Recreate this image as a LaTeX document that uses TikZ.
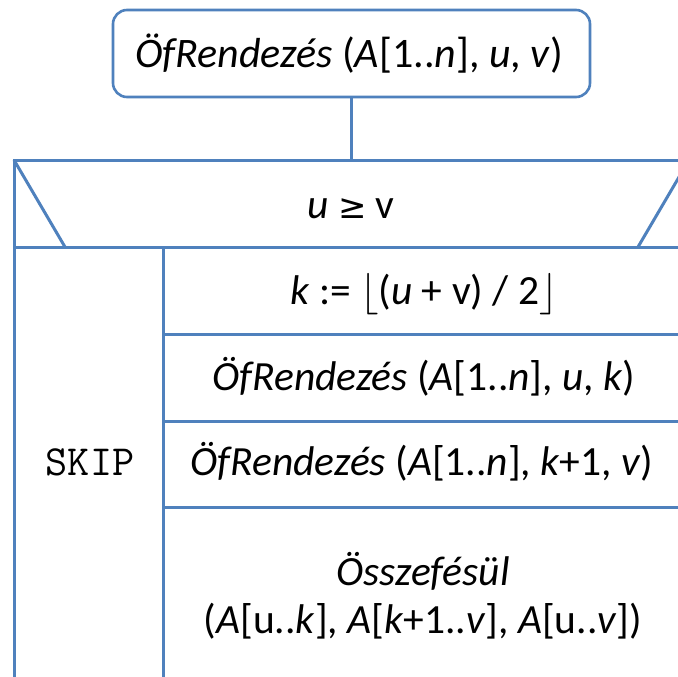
\RequirePackage{fix-cm}
\documentclass[tikz,border=0pt]{standalone}
\usepackage{fontspec}
\setmainfont{Carlito}
\newfontfamily\symf{DejaVu Sans}
\begin{document}
\begin{tikzpicture}[x=1pt,y=-1pt,
  frameline/.style={draw=nsblue,line width=3pt},
  lbl/.style={font=\fontsize{41.5}{48}\selectfont, inner sep=0pt, align=center},
  headbox/.style={draw=nsblue, line width=2.6pt, rounded corners=14pt, minimum width=477pt, minimum height=87pt}]
\definecolor{nsblue}{HTML}{4F81BD}
\clip (0,0) rectangle (678,677);
\fill[white] (0,0) rectangle (678,677);
\node[headbox] (head) at (351.5,53.5) {};
\node[font=\fontsize{42}{46}\selectfont, inner sep=0pt] (headtext) at (349,53.5) {\textit{ÖfRendezés} (\textit{A}[1..\textit{n}], \textit{u}, \textit{v})};
\coordinate (ftop) at (351.5,160);
\draw[frameline] (head.south) -- (ftop);
% frame
\draw[frameline] (14,677) -- (14,160) -- (689,160) -- (689,677);
\draw[frameline] (14,247) -- (689,247);
\draw[frameline] (14,160) -- (65,247);
\draw[frameline] (689,160) -- (638,247);
\draw[frameline] (163,247) -- (163,677);
\draw[frameline] (163,334) -- (689,334);
\draw[frameline] (163,421) -- (689,421);
\draw[frameline] (163,507) -- (689,507);
% texts
\node[lbl] (cond) at (351,209) {\textit{u} {\symf\fontsize{34}{40}\selectfont ≥} v};
\node[lbl] (assign) at (424,294) {\textit{k} := $\lfloor$(\textit{u} + v) / 2$\rfloor$};
\node[lbl] (call1) at (424,377) {\textit{ÖfRendezés} (\textit{A}[1..\textit{n}], \textit{u}, \textit{k})};
\node[lbl] (call2) at (422,462) {\textit{ÖfRendezés} (\textit{A}[1..\textit{n}], \textit{k}+1, \textit{v})};
\node[lbl] (merge) at (423,596) {\textit{Összefésül}\\(\textit{A}[u..\textit{k}], \textit{A}[\textit{k}+1..\textit{v}], \textit{A}[u..\textit{v}])};
\node[font=\ttfamily\fontsize{43}{46}\selectfont, inner sep=0pt] (skip) at (90,462) {SKIP};
\end{tikzpicture}
\end{document}
